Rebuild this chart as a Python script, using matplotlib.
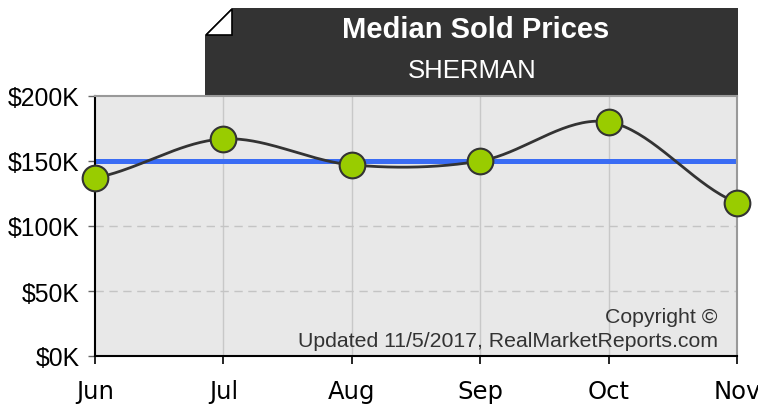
import numpy as np
import matplotlib.pyplot as plt
from matplotlib.patches import Polygon

months = ["Jun", "Jul", "Aug", "Sep", "Oct", "Nov"]
prices = [137000, 167000, 147000, 150000, 180000, 118000]
average_price = 150000
y_ticks = [0, 50000, 100000, 150000, 200000]
y_labels = ["$0K", "$50K", "$100K", "$150K", "$200K"]


def smooth_curve(xs, ys, steps=40):
    # Catmull-Rom style spline through the points
    xs = np.asarray(xs, float)
    ys = np.asarray(ys, float)
    n = len(ys)
    m = np.zeros(n)
    for i in range(n):
        if i == 0:
            m[i] = (ys[1] - ys[0]) * 0.6
        elif i == n - 1:
            m[i] = (ys[-1] - ys[-2]) * 0.6
        else:
            m[i] = (ys[i + 1] - ys[i - 1]) / 2
    out_x, out_y = [], []
    for i in range(n - 1):
        t = np.linspace(0, 1, steps)
        h00 = 2 * t**3 - 3 * t**2 + 1
        h10 = t**3 - 2 * t**2 + t
        h01 = -2 * t**3 + 3 * t**2
        h11 = t**3 - t**2
        out_x.extend(xs[i] + t * (xs[i + 1] - xs[i]))
        out_y.extend(h00 * ys[i] + h10 * m[i] + h01 * ys[i + 1] + h11 * m[i + 1])
    return out_x, out_y


W, H = 758, 406
fig = plt.figure(figsize=(W / 100, H / 100), dpi=100)

# overlay for the title box
over = fig.add_axes([0, 0, 1, 1])
over.set_xlim(0, W)
over.set_ylim(H, 0)
over.axis("off")
over.add_patch(Polygon([(205, 97), (205, 36), (232, 9), (738, 9), (738, 97)],
                       closed=True, facecolor="#333333", edgecolor="none"))
over.add_patch(Polygon([(206, 36), (232, 36), (232, 10)], closed=True,
                       facecolor="white", edgecolor="black", linewidth=1.2))
over.text(476, 30, "Median Sold Prices", color="white", fontsize=21,
          fontweight="bold", family="Liberation Sans", ha="center", va="center")
over.text(472, 71, "SHERMAN", color="white", fontsize=18.5,
          family="Liberation Sans", ha="center", va="center")

ax = fig.add_axes([95 / W, 49 / H, 642 / W, 260 / H])
ax.set_facecolor("#e8e8e8")
x = np.arange(len(months))

for xv in x[1:-1]:
    ax.axvline(xv, color="#c8c8c8", linewidth=1, zorder=1)
for yv in y_ticks[1:-1]:
    ax.axhline(yv, color="#c4c4c4", linewidth=1, linestyle=(0, (6, 4)), zorder=1)

ax.axhline(average_price, color="#3a6cf4", linewidth=3.6, zorder=2)

cx, cy = smooth_curve(x, prices)
ax.plot(cx, cy, color="#333333", linewidth=2, zorder=3)
ax.plot(x, prices, linestyle="none", marker="o", markersize=18.5,
        markerfacecolor="#99cc00", markeredgecolor="#333333",
        markeredgewidth=1.5, zorder=4, clip_on=False)

ax.set_xlim(0, len(months) - 1)
ax.set_ylim(0, 200000)
ax.set_xticks(x)
ax.set_xticklabels(months, family="DejaVu Sans", fontsize=17.5)
ax.set_yticks(y_ticks)
ax.set_yticklabels(y_labels, family="Liberation Sans", fontsize=17.8)
ax.tick_params(axis="x", length=6, width=1.2, color="black", pad=10.5)
ax.tick_params(axis="y", length=5, width=1, color="#666666", pad=6)

for side in ["left", "bottom"]:
    ax.spines[side].set_color("black")
    ax.spines[side].set_linewidth(1.5)
for side in ["top", "right"]:
    ax.spines[side].set_color("#999999")
    ax.spines[side].set_linewidth(1.5)

ax.text(0.97, 0.15, "Copyright \u00a9", transform=ax.transAxes, ha="right",
        va="center", fontsize=15.3, color="#333333", family="Liberation Sans")
ax.text(0.97, 0.06, "Updated 11/5/2017, RealMarketReports.com",
        transform=ax.transAxes, ha="right", va="center", fontsize=15.3,
        color="#333333", family="Liberation Sans")

fig.savefig("out.png", dpi=100)
